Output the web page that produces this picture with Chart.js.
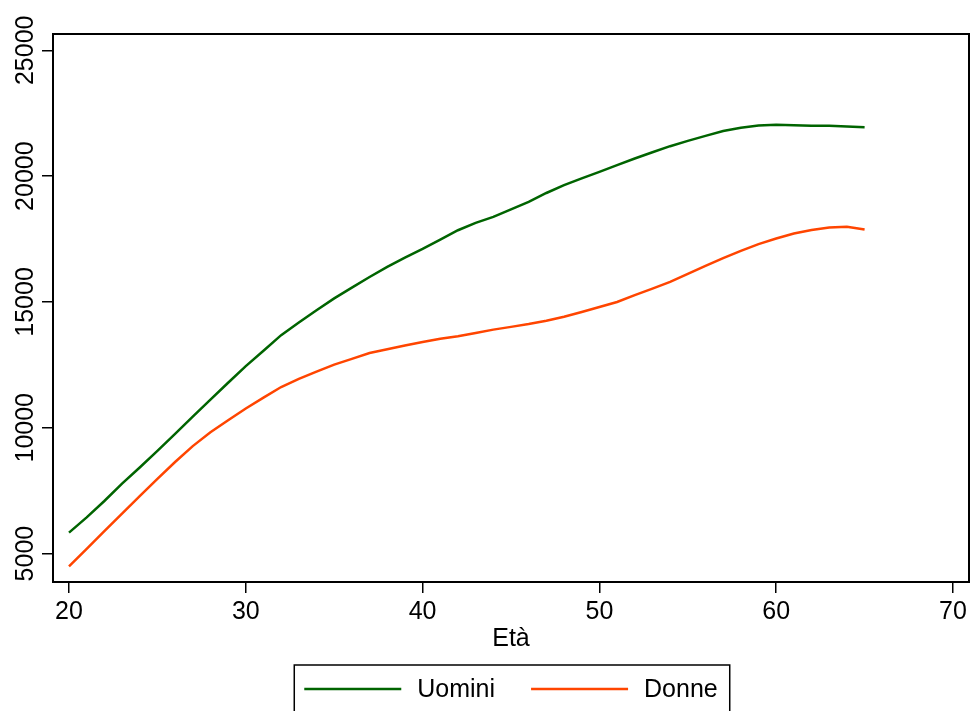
<!DOCTYPE html>
<html>
<head>
<meta charset="utf-8">
<title>Età</title>
<script src="https://cdn.jsdelivr.net/npm/chart.js@4.4.1/dist/chart.umd.min.js"></script>
<style>
  html, body { margin: 0; padding: 0; background: #ffffff; }
  #wrap { width: 971px; height: 711px; position: relative; }
</style>
</head>
<body>
<div id="wrap"><canvas id="ageChart"></canvas></div>
<script>
const ages = [20, 21, 22, 23, 24, 25, 26, 27, 28, 29,
              30, 31, 32, 33, 34, 35, 36, 37, 38, 39,
              40, 41, 42, 43, 44, 45, 46, 47, 48, 49,
              50, 51, 52, 53, 54, 55, 56, 57, 58, 59,
              60, 61, 62, 63, 64, 65];
const uomini = [5835, 6440, 7090, 7780, 8420, 9080, 9760, 10440, 11120, 11790,
                12450, 13060, 13680, 14180, 14670, 15140, 15570, 15990, 16390, 16760,
                17110, 17480, 17850, 18140, 18380, 18680, 18980, 19330, 19640, 19910,
                20170, 20440, 20700, 20950, 21190, 21400, 21600, 21790, 21920, 22010,
                22040, 22020, 22000, 22000, 21970, 21940];
const donne = [4495, 5190, 5890, 6590, 7280, 7970, 8640, 9270, 9820, 10300,
               10765, 11200, 11620, 11940, 12230, 12510, 12740, 12970, 13120, 13270,
               13410, 13540, 13640, 13770, 13900, 14010, 14120, 14250, 14410, 14600,
               14800, 15000, 15270, 15530, 15800, 16120, 16430, 16740, 17030, 17300,
               17520, 17720, 17860, 17960, 17990, 17880];
const xTicks = [20, 30, 40, 50, 60, 70];
const yTicks = [5000, 10000, 15000, 20000, 25000];

const FONT = "'Liberation Sans', Arial, Helvetica, sans-serif";
const GREEN = '#006400';
const ORANGE = '#ff4500';

const toPoints = (ys) => ages.map((a, i) => ({x: a, y: ys[i]}));

// frame, rotated y labels, axis title and boxed legend in Stata style
const stataDecor = {
    id: 'stataDecor',
    afterDraw(chart) {
        const ctx = chart.ctx;
        const area = chart.chartArea;
        const yScale = chart.scales.y;

        ctx.save();
        ctx.strokeStyle = '#000';
        ctx.lineWidth = 2;
        ctx.strokeRect(area.left, area.top, area.right - area.left, area.bottom - area.top);

        ctx.fillStyle = '#000';
        ctx.font = '25px ' + FONT;
        ctx.textAlign = 'center';
        ctx.textBaseline = 'alphabetic';
        yTicks.forEach(function (v) {
            const py = yScale.getPixelForValue(v);
            ctx.save();
            ctx.translate(33, py);
            ctx.rotate(-Math.PI / 2);
            ctx.fillText(String(v), 0, 0);
            ctx.restore();
        });

        const midX = (area.left + area.right) / 2;
        ctx.fillText('Età', midX, 646);

        // legend
        const sample = 97, gap = 16, between = 36;
        const items = chart.data.datasets.map(function (ds) {
            return {label: ds.label, color: ds.borderColor, w: ctx.measureText(ds.label).width};
        });
        let total = 0;
        items.forEach(function (it, i) {
            total += sample + gap + it.w + (i < items.length - 1 ? between : 0);
        });
        let x = midX - total / 2;
        const ly = 689;
        ctx.lineWidth = 1.5;
        ctx.strokeRect(x - 10, 665, total + 22, 60);
        ctx.textAlign = 'left';
        ctx.textBaseline = 'middle';
        items.forEach(function (it) {
            ctx.strokeStyle = it.color;
            ctx.lineWidth = 2.5;
            ctx.beginPath();
            ctx.moveTo(x, ly);
            ctx.lineTo(x + sample, ly);
            ctx.stroke();
            x += sample + gap;
            ctx.fillText(it.label, x, ly + 1);
            x += it.w + between;
        });
        ctx.restore();
    }
};

var ctx = document.getElementById('ageChart').getContext('2d');
var ageChart = new Chart(ctx, {
    type: 'line',
    data: {
        datasets: [{
            label: 'Uomini',
            data: toPoints(uomini),
            borderColor: GREEN,
            backgroundColor: GREEN,
            borderWidth: 2.5,
            pointRadius: 0,
            fill: false,
            tension: 0
        },
        {
            label: 'Donne',
            data: toPoints(donne),
            borderColor: ORANGE,
            backgroundColor: ORANGE,
            borderWidth: 2.5,
            pointRadius: 0,
            fill: false,
            tension: 0
        }]
    },
    options: {
        responsive: true,
        maintainAspectRatio: false,
        animation: false,
        layout: { padding: { top: 34, right: 2, bottom: 0, left: 0 } },
        plugins: {
            legend: { display: false },
            tooltip: { enabled: false }
        },
        scales: {
            x: {
                type: 'linear',
                min: 19.095,
                max: 70.905,
                afterBuildTicks: function (scale) {
                    scale.ticks = xTicks.map(v => ({value: v}));
                },
                afterFit: function (scale) { scale.height = 129; },
                border: { display: false },
                grid: {
                    drawOnChartArea: false,
                    drawTicks: true,
                    tickLength: 11,
                    color: '#000',
                    lineWidth: 1.5
                },
                ticks: {
                    color: '#000',
                    padding: 4,
                    maxRotation: 0,
                    font: { family: FONT, size: 25 }
                }
            },
            y: {
                min: 3871,
                max: 25648,
                afterBuildTicks: function (scale) {
                    scale.ticks = yTicks.map(v => ({value: v}));
                },
                afterFit: function (scale) { scale.width = 53; },
                border: { display: false },
                grid: {
                    drawOnChartArea: false,
                    drawTicks: true,
                    tickLength: 11,
                    color: '#000',
                    lineWidth: 1.5
                },
                ticks: { display: false }
            }
        }
    },
    plugins: [stataDecor]
});
</script>
</body>
</html>
